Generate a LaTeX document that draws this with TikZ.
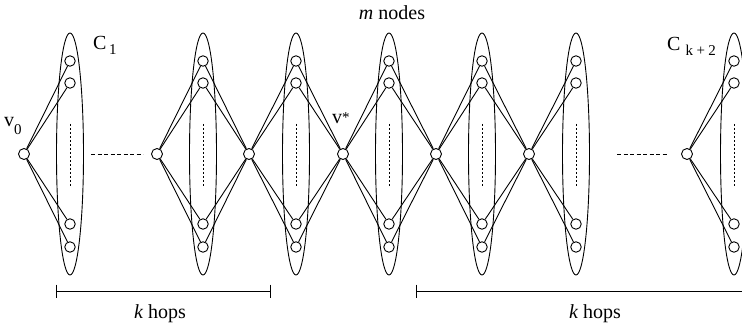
\documentclass[tikz,border=0pt]{standalone}
\usepackage{fontspec}
\setmainfont{Liberation Serif}
\usetikzlibrary{shapes.geometric}
\begin{document}
\begin{tikzpicture}[x=1pt,y=-1pt,
  vert/.style={circle,draw,fill=white,inner sep=0pt,minimum size=10.5pt,line width=0.9pt},
  hub/.style={circle,draw,fill=white,inner sep=0pt,minimum size=11pt,line width=0.9pt},
  cluster/.style={ellipse,draw,inner sep=0pt,minimum width=27pt,minimum height=242pt,line width=0.9pt},
  edge/.style={line width=0.9pt},
  vdots/.style={dash pattern=on 2pt off 2pt,line width=0.8pt},
  hdots/.style={dash pattern=on 4pt off 2.5pt,line width=0.8pt},
  bar/.style={line width=0.9pt},
  lbl/.style={font=\fontsize{20}{24}\selectfont,inner sep=0pt},
]
\useasboundingbox (0,0) rectangle (742,326);
% clusters with their member nodes
\foreach \i/\x in {1/70,2/203,3/296,4/389,5/482,6/576,7/734} {
  \node[cluster] (e\i) at (\x,154) {};
  \coordinate (dt\i) at (\x,124);
  \coordinate (db\i) at (\x,187);
  \draw[vdots] (dt\i) -- (db\i);
  \node[vert] (n\i a) at (\x,61) {};
  \node[vert] (n\i b) at (\x,83) {};
  \node[vert] (n\i c) at (\x,224) {};
  \node[vert] (n\i d) at (\x,247) {};
}
% hubs
\foreach \j/\x in {0/24,1/157,2/249,3/343,4/436,5/529,6/687} {
  \node[hub] (h\j) at (\x,154) {};
}
% edges
\foreach \j/\i in {0/1,1/2,2/2,2/3,3/3,3/4,4/4,4/5,5/5,5/6,6/7} {
  \foreach \k in {a,b,c,d} {
    \draw[edge] (h\j) -- (n\i\k);
  }
}
% dashed horizontal gaps
\coordinate (g1s) at (91,154);
\coordinate (g1e) at (143,154);
\coordinate (g2s) at (617,154);
\coordinate (g2e) at (668,154);
\draw[hdots] (g1s) -- (g1e);
\draw[hdots] (g2s) -- (g2e);
% hop bars
\coordinate (b1s) at (56,291);
\coordinate (b1e) at (270,291);
\coordinate (b2s) at (416,291);
\coordinate (b2e) at (742,291);
\draw[bar] (b1s) -- (b1e);
\draw[bar] ([yshift=6.5pt]b1s) -- ([yshift=-6.5pt]b1s);
\draw[bar] ([yshift=6.5pt]b1e) -- ([yshift=-6.5pt]b1e);
\draw[bar] (b2s) -- (b2e);
\draw[bar] ([yshift=6.5pt]b2s) -- ([yshift=-6.5pt]b2s);
% labels
\node[lbl,anchor=base] (mlab) at (392,20) {\textit{m} nodes};
\node[lbl,anchor=base] (k1) at (160,318) {\textit{k} hops};
\node[lbl,anchor=base] (k2) at (595,318) {\textit{k} hops};
\node[lbl,anchor=base west] (c1) at (93,50) {C\hspace{2.5pt}\raisebox{-4.5pt}{\fontsize{15}{15}\selectfont 1}};
\node[lbl,anchor=base west] (ck) at (667,51) {C\hspace{5pt}\raisebox{-4.5pt}{\fontsize{15}{15}\selectfont k\hspace{3.5pt}+\hspace{3.5pt}2}};
\node[lbl,anchor=base west] (v0) at (4,127) {v\raisebox{-8pt}{\fontsize{15}{15}\selectfont 0}};
\node[lbl,anchor=base west] (vs) at (332,124) {v\raisebox{1pt}{\fontsize{15}{15}\selectfont *}};
\end{tikzpicture}
\end{document}
